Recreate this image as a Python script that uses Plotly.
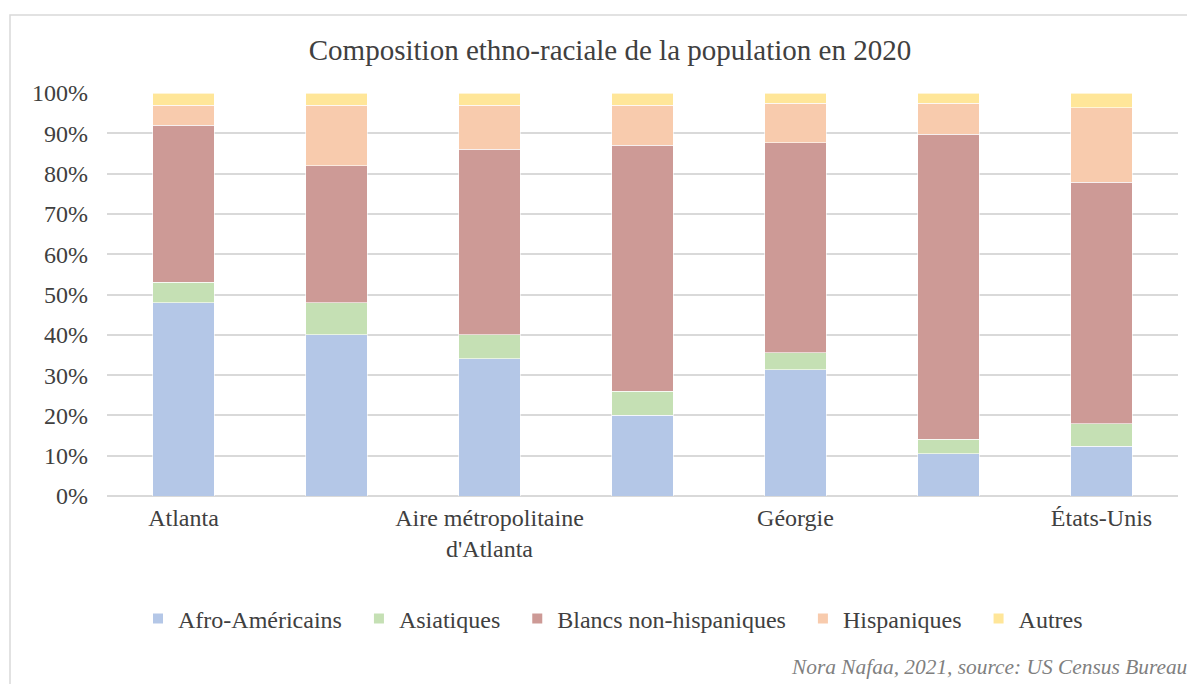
import plotly.graph_objects as go

categories = ["Atlanta", "Comté de Fulton", "Aire métropolitaine d'Atlanta",
              "Comté de Cobb", "Géorgie", "Sud rural", "États-Unis"]
tick_labels = ["Atlanta", "", "Aire métropolitaine<br>d'Atlanta", "", "Géorgie", "", "États-Unis"]

afro = [48.0, 40.0, 34.0, 20.0, 31.3, 10.5, 12.3]
asiat = [5.0, 8.0, 6.0, 6.0, 4.2, 3.6, 5.6]
blancs = [39.0, 34.0, 46.0, 61.0, 52.1, 75.7, 60.0]
hisp = [5.0, 15.0, 11.0, 10.0, 9.8, 7.7, 18.4]
autres = [3.0, 3.0, 3.0, 3.0, 2.6, 2.5, 3.7]

series = [
    ("Afro-Américains", afro, "#B4C7E7"),
    ("Asiatiques", asiat, "#C5E0B4"),
    ("Blancs non-hispaniques", blancs, "#CD9A96"),
    ("Hispaniques", hisp, "#F8CBAD"),
    ("Autres", autres, "#FFE699"),
]

FONT = "Liberation Serif"
TXT = "#404040"
PAD = "\u00a0\u00a0"

# figure-pixel geometry (page has an 8px body offset)
L, R, T, B = 99, 1170, 85, 488
W, H = 1195, 684
PW, PH = R - L, B - T

fig = go.Figure()
for name, vals, col in series:
    fig.add_trace(go.Bar(x=categories, y=[v / 100 for v in vals], name=name + PAD,
                         marker=dict(color=col, line=dict(width=0.6, color="white"))))

fig.update_layout(
    barmode="stack",
    bargap=0.6,
    width=W, height=H,
    margin=dict(l=L, r=W - R, t=T, b=H - B),
    paper_bgcolor="white", plot_bgcolor="white",
    font=dict(family=FONT, color=TXT, size=24),
    title=dict(text="Composition ethno-raciale de la population en 2020",
               x=(602) / W, xanchor="center", xref="container",
               y=1 - 42 / H, yanchor="middle",
               font=dict(size=29, color=TXT, family=FONT)),
    showlegend=True,
    legend=dict(orientation="h", x=(611 - L) / PW, xanchor="center",
                y=(B - 611) / PH, yanchor="middle",
                font=dict(size=24, color=TXT, family=FONT),
                traceorder="normal", itemwidth=30, itemsizing="constant"),
    xaxis=dict(type="category", tickmode="array", tickvals=categories, ticktext=tick_labels,
               showgrid=False, showline=False, ticks="", tickfont=dict(size=24),
               ticklabelstandoff=5),
    yaxis=dict(range=[0, 1], tickformat=".0%", dtick=0.1, showgrid=True,
               gridcolor="#D9D9D9", gridwidth=1.5, zeroline=True, zerolinecolor="#D9D9D9",
               zerolinewidth=1.5, showline=False, ticks="", tickfont=dict(size=24),
               ticklabelstandoff=18),
)

# Chart border (Excel chart area)
fig.add_shape(type="rect", xref="paper", yref="paper",
              x0=(2 - L) / PW, x1=1.05, y0=-0.6, y1=(B - 7) / PH,
              line=dict(color="#D9D9D9", width=1.5), fillcolor="rgba(0,0,0,0)", layer="below")

fig.add_annotation(text="<i>Nora Nafaa, 2021, source: US Census Bureau</i>",
                   xref="paper", yref="paper", x=(1181 - L) / PW, y=(B - 659) / PH,
                   xanchor="right", yanchor="middle", showarrow=False,
                   font=dict(size=21.4, color="#7F7F7F", family=FONT))

fig.write_html("out.html")
